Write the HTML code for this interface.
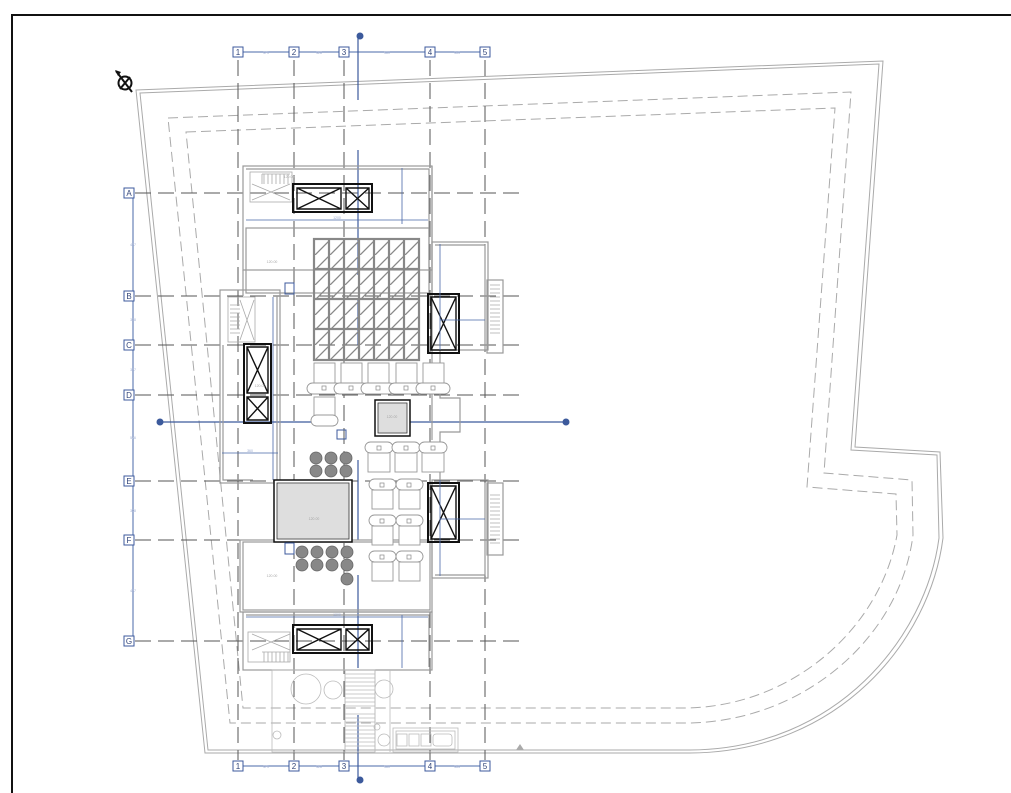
<!DOCTYPE html>
<html><head><meta charset="utf-8"><style>
html,body{margin:0;padding:0;background:#fff;}
svg{display:block;}
text{font-family:"Liberation Sans",sans-serif;}
</style></head><body>
<svg width="1011" height="793" viewBox="0 0 1011 793" xmlns="http://www.w3.org/2000/svg">
<defs>
<pattern id="hatch" width="15" height="15" patternUnits="userSpaceOnUse">
<path d="M0 15 L15 0" stroke="#888" stroke-width="1.3"/>
</pattern>
<pattern id="fine" width="3" height="2" patternUnits="userSpaceOnUse">
<rect width="3" height="2" fill="#eee"/><path d="M0 1 H3" stroke="#bbb" stroke-width="0.6"/>
</pattern>
</defs>
<path d="M12 793 V15 H1011" fill="none" stroke="#111" stroke-width="2"/>

<g fill="none" stroke="#aaa" stroke-width="1">
<path d="M136 90 L883 61 L855 447 L940 452 L943 538 C930 640 840 752 690 753 L205 753 Z"/>
<path d="M140 93 L879 64 L851 450 L937 455 L939 538 C926 637 837 749 690 750 L208 750 Z"/>
</g>
<g fill="none" stroke="#aaa" stroke-width="1" stroke-dasharray="10,5">
<path d="M168 118 L851 92 L824 473 L912 480 L913 535 C900 640 800 724 683 723 L230 723 Z"/>
<path d="M186 132 L835 108 L807 487 L896 494 L897 535 C880 630 790 708 683 708 L243 708 Z"/>
</g>

<g stroke="#555" stroke-width="1" stroke-dasharray="16,7" fill="none">
<path d="M238 60 V760 M294 60 V760 M344 60 V760 M430 60 V760 M485 60 V760"/>
<path d="M135 193 H525 M135 296 H525 M135 345 H525 M135 395 H525 M135 481 H525 M135 540 H525 M135 641 H525"/>
</g>
<g stroke="#4a68a8" stroke-width="1" fill="none">
<path d="M238 52 H485 M238 766 H485 M133 193 V641"/>
</g>
<g fill="#fff" stroke="#3c5a9c" stroke-width="1">
<rect x="233" y="47" width="10" height="10"/><rect x="289" y="47" width="10" height="10"/><rect x="339" y="47" width="10" height="10"/><rect x="425" y="47" width="10" height="10"/><rect x="480" y="47" width="10" height="10"/>
<rect x="233" y="761" width="10" height="10"/><rect x="289" y="761" width="10" height="10"/><rect x="339" y="761" width="10" height="10"/><rect x="425" y="761" width="10" height="10"/><rect x="480" y="761" width="10" height="10"/>
<rect x="124" y="188" width="10" height="10"/><rect x="124" y="291" width="10" height="10"/><rect x="124" y="340" width="10" height="10"/><rect x="124" y="390" width="10" height="10"/><rect x="124" y="476" width="10" height="10"/><rect x="124" y="535" width="10" height="10"/><rect x="124" y="636" width="10" height="10"/>
</g>
<g fill="#33467a" font-size="8" text-anchor="middle">
<text x="238" y="55">1</text><text x="294" y="55">2</text><text x="344" y="55">3</text><text x="430" y="55">4</text><text x="485" y="55">5</text>
<text x="238" y="769">1</text><text x="294" y="769">2</text><text x="344" y="769">3</text><text x="430" y="769">4</text><text x="485" y="769">5</text>
<text x="129" y="196">A</text><text x="129" y="299">B</text><text x="129" y="348">C</text><text x="129" y="398">D</text><text x="129" y="484">E</text><text x="129" y="543">F</text><text x="129" y="644">G</text>
</g>
<g fill="#9aaad0" font-size="3.5" text-anchor="middle">
<text x="266" y="54">371</text><text x="319" y="54">328</text><text x="387" y="54">580</text><text x="457" y="54">363</text>
<text x="266" y="768">371</text><text x="319" y="768">328</text><text x="387" y="768">580</text><text x="457" y="768">363</text>
<text x="133" y="246">437</text><text x="133" y="321">328</text><text x="133" y="371">337</text><text x="133" y="439">576</text><text x="133" y="512">398</text><text x="133" y="592">437</text>
</g>

<g stroke="#3c5a9c" stroke-width="1.2" fill="none">
<path d="M358 36 V100 M358 150 V275 M358 300 V345 M358 460 V540 M358 575 V668 M358 715 V780"/>
<path d="M158 422 H325 M410 422 H567"/>
</g>
<g fill="#3c5a9c"><circle cx="360" cy="36" r="3.5"/><circle cx="360" cy="780" r="3.5"/><circle cx="160" cy="422" r="3.5"/><circle cx="566" cy="422" r="3.5"/></g>

<g stroke="#111" fill="none" stroke-width="2"><circle cx="125" cy="83" r="6.5"/><path d="M116 71 L132 92 M120 89 L130 77"/></g>
<path d="M115 70 L121 72 L118 76 Z" fill="#111"/>

<g fill="none" stroke="#999" stroke-width="1.2">
<rect x="243" y="166" width="189" height="104"/>
<path d="M246 169 H429 V268"/>
<rect x="246" y="228" width="183" height="65"/>
<path d="M243 270 V296 M432 166 V440"/>
<rect x="220" y="290" width="60" height="193"/>
<path d="M223 345 V480 H253"/>
<path d="M277 296 V480"/>
<rect x="432" y="242" width="56" height="108"/>
<rect x="487" y="280" width="16" height="73"/>
<path d="M435 245 H485 V350"/>
<rect x="432" y="480" width="56" height="98"/>
<rect x="487" y="483" width="16" height="72"/>
<path d="M435 575 H485 V483"/>
<path d="M440 350 V398 H460 V432 H440 V480"/>
<rect x="243" y="542" width="187" height="68"/>
<rect x="240" y="540" width="192" height="72"/>
<rect x="243" y="612" width="189" height="58"/>
<path d="M246 615 H429 V667"/>
</g>
<g stroke="#aaa" stroke-width="0.8" fill="none">
<rect x="250" y="172" width="42" height="30"/><path d="M262 174 H290 M262 174 V184" />
<path d="M264 174 V184 M268 174 V184 M272 174 V184 M276 174 V184 M280 174 V184 M284 174 V184 M288 174 V184"/>
<path d="M252 184 L290 200 M252 200 L290 184"/>
<rect x="228" y="297" width="27" height="45"/>
<path d="M230 305 H240 M230 309 H240 M230 313 H240 M230 317 H240 M230 321 H240 M230 325 H240 M230 329 H240 M230 333 H240 M240 300 L254 340 M254 300 L240 340"/>
<path d="M490 285 H500 M490 289 H500 M490 293 H500 M490 297 H500 M490 301 H500 M490 305 H500 M490 309 H500 M490 313 H500 M490 317 H500 M490 321 H500 M490 325 H500 M490 329 H500 M490 333 H500"/>
<path d="M490 495 H500 M490 499 H500 M490 503 H500 M490 507 H500 M490 511 H500 M490 515 H500 M490 519 H500 M490 523 H500 M490 527 H500 M490 531 H500 M490 535 H500 M490 539 H500 M490 543 H500"/>
<rect x="248" y="632" width="42" height="30"/>
<path d="M262 652 H290 M264 652 V662 M268 652 V662 M272 652 V662 M276 652 V662 M280 652 V662 M284 652 V662 M288 652 V662 M252 634 L290 650 M252 650 L290 634"/>
</g>

<rect x="314" y="239" width="105" height="121" fill="url(#hatch)" stroke="#888" stroke-width="2.2"/>
<g stroke="#888" stroke-width="2.2" fill="none">
<path d="M329 239 V360 M344 239 V360 M359 239 V360 M374 239 V360 M389 239 V360 M404 239 V360 M314 269 H419 M314 299 H419 M314 329 H419"/>
</g>

<g stroke="#111" stroke-width="1.4" fill="none">
<rect x="293" y="184" width="79" height="28" stroke-width="2"/>
<path d="M297 188 H341 V209 H297 Z M297 188 L341 209 M341 188 L297 209 M346 188 H369 V209 H346 Z M346 188 L369 209 M369 188 L346 209"/>
<rect x="293" y="625" width="79" height="28" stroke-width="2"/>
<path d="M297 629 H341 V650 H297 Z M297 629 L341 650 M341 629 L297 650 M346 629 H369 V650 H346 Z M346 629 L369 650 M369 629 L346 650"/>
<rect x="244" y="344" width="27" height="79" stroke-width="2"/>
<path d="M247 347 H268 V393 H247 Z M247 347 L268 393 M268 347 L247 393 M247 397 H268 V420 H247 Z M247 397 L268 420 M268 397 L247 420"/>
<rect x="428" y="294" width="31" height="59" stroke-width="2"/>
<path d="M431 297 H456 V350 H431 Z M431 297 L456 350 M456 297 L431 350"/>
<rect x="428" y="483" width="31" height="59" stroke-width="2"/>
<path d="M431 486 H456 V539 H431 Z M431 486 L456 539 M456 486 L431 539"/>
</g>

<g stroke="#4a68a8" stroke-width="0.8" fill="none">
<path d="M246 220 H428 M402 168 V224 M246 617 H428 M402 615 V668 M440 244 V350 M440 480 V576 M273 297 V480 M222 453 H278 M440 320 H485 M440 519 H485"/>
</g>
<g fill="#9aaad0" font-size="3.5" text-anchor="middle"><text x="337" y="219">1200</text><text x="337" y="616">1200</text><text x="250" y="452">360</text></g>

<g stroke="#999" stroke-width="0.9" fill="#fff">
<rect x="314" y="363" width="21" height="22"/><rect x="341" y="363" width="21" height="22"/><rect x="368" y="363" width="21" height="22"/><rect x="396" y="363" width="21" height="22"/><rect x="423" y="363" width="21" height="22"/>
<rect x="307" y="383" width="34" height="11" rx="5.5"/><rect x="334" y="383" width="34" height="11" rx="5.5"/><rect x="361" y="383" width="34" height="11" rx="5.5"/><rect x="389" y="383" width="34" height="11" rx="5.5"/><rect x="416" y="383" width="34" height="11" rx="5.5"/>
<rect x="314" y="397" width="21" height="20"/><rect x="311" y="415" width="27" height="11" rx="5.5"/>
<rect x="368" y="452" width="22" height="20"/><rect x="395" y="452" width="22" height="20"/><rect x="422" y="452" width="22" height="20"/>
<rect x="365" y="442" width="28" height="11" rx="5.5"/><rect x="392" y="442" width="28" height="11" rx="5.5"/><rect x="419" y="442" width="28" height="11" rx="5.5"/>
<rect x="372" y="490" width="21" height="19"/><rect x="399" y="490" width="21" height="19"/><rect x="369" y="479" width="27" height="11" rx="5.5"/><rect x="396" y="479" width="27" height="11" rx="5.5"/>
<rect x="372" y="526" width="21" height="19"/><rect x="399" y="526" width="21" height="19"/><rect x="369" y="515" width="27" height="11" rx="5.5"/><rect x="396" y="515" width="27" height="11" rx="5.5"/>
<rect x="372" y="562" width="21" height="19"/><rect x="399" y="562" width="21" height="19"/><rect x="369" y="551" width="27" height="11" rx="5.5"/><rect x="396" y="551" width="27" height="11" rx="5.5"/>
</g>
<g fill="none" stroke="#888" stroke-width="0.7">
<rect x="322" y="386" width="4" height="4"/><rect x="349" y="386" width="4" height="4"/><rect x="376" y="386" width="4" height="4"/><rect x="404" y="386" width="4" height="4"/><rect x="431" y="386" width="4" height="4"/>
<rect x="377" y="446" width="4" height="4"/><rect x="404" y="446" width="4" height="4"/><rect x="431" y="446" width="4" height="4"/>
<rect x="380" y="483" width="4" height="4"/><rect x="407" y="483" width="4" height="4"/><rect x="380" y="519" width="4" height="4"/><rect x="407" y="519" width="4" height="4"/><rect x="380" y="555" width="4" height="4"/><rect x="407" y="555" width="4" height="4"/>
</g>
<g fill="#888" stroke="#666" stroke-width="0.8">
<circle cx="316" cy="458" r="6"/><circle cx="331" cy="458" r="6"/><circle cx="346" cy="458" r="6"/>
<circle cx="316" cy="471" r="6"/><circle cx="331" cy="471" r="6"/><circle cx="346" cy="471" r="6"/>
<circle cx="302" cy="552" r="6"/><circle cx="317" cy="552" r="6"/><circle cx="332" cy="552" r="6"/><circle cx="347" cy="552" r="6"/>
<circle cx="302" cy="565" r="6"/><circle cx="317" cy="565" r="6"/><circle cx="332" cy="565" r="6"/><circle cx="347" cy="565" r="6"/>
<circle cx="347" cy="579" r="6"/>
</g>
<rect x="375" y="400" width="35" height="36" fill="#fff" stroke="#111" stroke-width="1.5"/>
<rect x="378" y="403" width="29" height="30" fill="url(#fine)" stroke="#333" stroke-width="0.8"/>
<rect x="274" y="480" width="78" height="62" fill="#fff" stroke="#111" stroke-width="1.5"/>
<rect x="277" y="483" width="72" height="56" fill="url(#fine)" stroke="#333" stroke-width="0.8"/>
<g fill="none" stroke="#3c5a9c" stroke-width="1"><rect x="285" y="283" width="9" height="11"/><rect x="337" y="430" width="9" height="9"/><rect x="285" y="543" width="9" height="11"/></g>
<g fill="#aaa" font-size="3.5" text-anchor="middle"><text x="289" y="178">120.00</text><text x="272" y="263">120.00</text><text x="392" y="418">120.00</text><text x="314" y="520">120.00</text><text x="272" y="577">120.00</text><text x="260" y="387">120.00</text></g>

<g stroke="#bbb" stroke-width="0.8" fill="none">
<rect x="272" y="670" width="73" height="82"/>
<rect x="345" y="670" width="30" height="82"/>
<path d="M345 674 H375 M345 678 H375 M345 682 H375 M345 686 H375 M345 690 H375 M345 694 H375 M345 698 H375 M345 702 H375 M345 706 H375 M345 714 H375 M345 718 H375 M345 722 H375 M345 726 H375 M345 730 H375 M345 734 H375 M345 738 H375 M345 742 H375 M345 746 H375"/>
<path d="M375 670 V752 M390 670 V752"/>
<circle cx="306" cy="689" r="15"/><circle cx="333" cy="690" r="9"/><circle cx="384" cy="689" r="9"/><circle cx="384" cy="740" r="6"/><circle cx="377" cy="727" r="3"/><circle cx="277" cy="735" r="4"/>
<rect x="393" y="728" width="65" height="24"/><rect x="396" y="731" width="59" height="18"/>
<rect x="397" y="734" width="10" height="12"/><rect x="409" y="734" width="10" height="12"/><rect x="421" y="734" width="10" height="12"/><rect x="433" y="734" width="19" height="12" rx="3"/>
</g>
<path d="M516 750 L520 744 L524 750 Z" fill="#aaa"/>
</svg>
</body></html>
